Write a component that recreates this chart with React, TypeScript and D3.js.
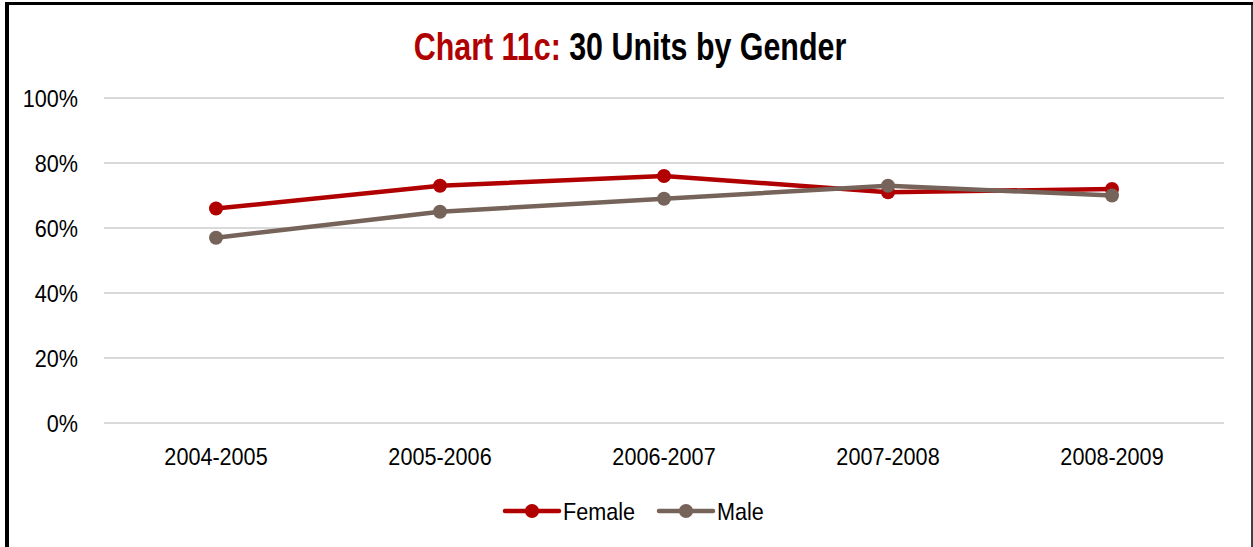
import * as d3 from 'd3';
import React from 'react';

const years = ['2004-2005', '2005-2006', '2006-2007', '2007-2008', '2008-2009'];
const female = [66, 73, 76, 71, 72];
const male = [57, 65, 69, 73, 70];
const yTicks = [0, 20, 40, 60, 80, 100];

const FONT = '"Liberation Sans Narrow", "Arial Narrow", "Liberation Sans", sans-serif';
const RED = '#B00000';
const GREY = '#766359';

// narrow-looking text: no condensed font installed, so squeeze horizontally
const T = ({ x, y, anchor = 'start', size = 24, sx = 0.9, weight = 'normal', dy = '0', children }: any) => (
    <text transform={`translate(${x},${y}) scale(${sx},1)`} textAnchor={anchor} dy={dy}
        fontFamily={FONT} fontSize={size} fontWeight={weight} fill="#000">
        {children}
    </text>
);

const App = () => {
    const svgWidth = 1253;
    const svgHeight = 547;
    const margin = { left: 104, right: 29, top: 98, bottom: 124 };

    const x = d3.scaleBand().domain(years).range([margin.left, svgWidth - margin.right]);
    const y = d3.scaleLinear().domain([0, 100]).range([svgHeight - margin.bottom, margin.top]);
    const cx = (yr: string) => x(yr)! + x.bandwidth() / 2;

    const line = d3.line<number>()
        .x((d, i) => cx(years[i]))
        .y(d => y(d));

    const series = [
        { name: 'Female', values: female, color: RED },
        { name: 'Male', values: male, color: GREY },
    ];

    return (
        <svg width={svgWidth} height={svgHeight}
            style={{ position: 'absolute', left: 0, top: 0, background: '#fff' }}>
            {/* frame */}
            <line x1={7} y1={2} x2={7} y2={svgHeight} stroke="#000" strokeWidth={4} />
            <line x1={5} y1={3.5} x2={1253} y2={3.5} stroke="#000" strokeWidth={3} />
            <line x1={1252} y1={2} x2={1252} y2={svgHeight} stroke="#000" strokeWidth={1.5} />

            <T x={630} y={60} anchor="middle" size={38} sx={0.8} weight="bold">
                <tspan fill={RED}>Chart 11c: </tspan>
                <tspan fill="#000">30 Units by Gender</tspan>
            </T>

            {yTicks.map(t => (
                <g key={t}>
                    <line x1={margin.left} x2={svgWidth - margin.right} y1={y(t)} y2={y(t)}
                        stroke="#d9d9d9" strokeWidth={2} />
                    <T x={78} y={y(t)} anchor="end" dy="0.36em">{t}%</T>
                </g>
            ))}

            {years.map(yr => (
                <T key={yr} x={cx(yr)} y={465} anchor="middle">{yr}</T>
            ))}

            {series.map(s => (
                <g key={s.name}>
                    <path d={line(s.values)!} fill="none" stroke={s.color} strokeWidth={4.5}
                        strokeLinejoin="round" />
                    {s.values.map((v, i) => (
                        <circle key={i} cx={cx(years[i])} cy={y(v)} r={7} fill={s.color} />
                    ))}
                </g>
            ))}

            {/* legend */}
            {series.map((s, i) => {
                const lx = i === 0 ? 505 : 659;
                const ly = 511;
                return (
                    <g key={s.name}>
                        <line x1={lx} x2={lx + 54} y1={ly} y2={ly} stroke={s.color} strokeWidth={4.5}
                            strokeLinecap="round" />
                        <circle cx={lx + 27} cy={ly} r={7} fill={s.color} />
                        <T x={lx + 58} y={ly} dy="0.36em">{s.name}</T>
                    </g>
                );
            })}
        </svg>
    );
};

export default App;
